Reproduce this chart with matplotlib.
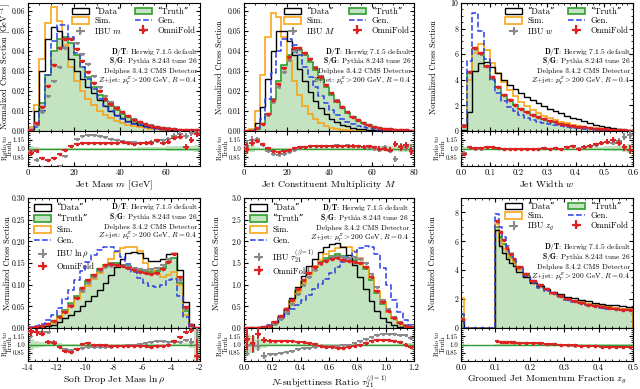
import numpy as np
import matplotlib
matplotlib.use("Agg")
import matplotlib.pyplot as plt
from matplotlib.patches import Patch
from matplotlib.ticker import AutoMinorLocator, FormatStrFormatter

plt.rcParams["font.family"] = ["cmr10", "DejaVu Serif"]
plt.rcParams["mathtext.fontset"] = "cm"
plt.rcParams["axes.formatter.use_mathtext"] = True
plt.rcParams["font.size"] = 6.5

# ---------------- data ----------------
# jet mass m
m_edges = np.linspace(0, 75, 31)
m_data = [0.001, 0.010, 0.030, 0.046, 0.052, 0.050, 0.042, 0.036, 0.030, 0.026, 0.022, 0.019, 0.0155, 0.0125, 0.0100,
          0.0080, 0.0063, 0.0050, 0.0039, 0.0030, 0.0023, 0.0018, 0.0014, 0.0011, 0.0008, 0.0006, 0.0005, 0.0004, 0.0003, 0.0002]
m_truth = [0.0005, 0.004, 0.014, 0.028, 0.040, 0.046, 0.047, 0.044, 0.038, 0.032, 0.027, 0.022, 0.018, 0.0148, 0.0125,
           0.0105, 0.0085, 0.0068, 0.0053, 0.0041, 0.0032, 0.0025, 0.0019, 0.0015, 0.0011, 0.0008, 0.0006, 0.0005, 0.0004, 0.0003]
m_sim = [0.002, 0.013, 0.036, 0.054, 0.062, 0.055, 0.043, 0.032, 0.025, 0.020, 0.016, 0.013, 0.010, 0.008, 0.0063,
         0.0050, 0.0039, 0.0030, 0.0024, 0.0018, 0.0014, 0.0011, 0.0008, 0.0006, 0.0005, 0.0004, 0.0003, 0.0002, 0.0002, 0.0001]
m_gen = [0.0, 0.002, 0.010, 0.028, 0.045, 0.053, 0.053, 0.047, 0.039, 0.032, 0.026, 0.021, 0.016, 0.0125, 0.0098,
         0.0076, 0.0060, 0.0047, 0.0036, 0.0028, 0.0021, 0.0016, 0.0012, 0.0009, 0.0007, 0.0005, 0.0004, 0.0003, 0.0002, 0.0001]
m_of_ratio = [0.93, 0.96, 0.84, 0.80, 0.83, 0.90, 0.98, 1.04, 1.08, 1.10, 1.10, 1.10, 1.10, 1.09, 1.09,
              1.10, 1.12, 1.10, 1.08, 1.09, 1.10, 1.10, 1.14, 1.09, 1.12, 1.18, 1.20, 1.03, 1.15, 1.25]
m_ibu_ratio = [0.95, 0.80, 0.68, 0.62, 0.62, 0.70, 0.88, 1.05, 1.16, 1.21, 1.24, 1.24, 1.22, 1.19, 1.16,
               1.14, 1.13, 1.12, 1.11, 1.10, 1.10, 1.12, 1.13, 1.14, 1.16, 1.22, 1.25, 1.22, 1.26, 1.28]
m_err = [0.05, 0.03, 0.015, 0.01, 0.01, 0.01, 0.01, 0.01, 0.01, 0.01, 0.01, 0.01, 0.01, 0.01, 0.012,
         0.012, 0.014, 0.015, 0.017, 0.02, 0.022, 0.025, 0.03, 0.03, 0.035, 0.04, 0.045, 0.05, 0.05, 0.06]

# constituent multiplicity M
M_edges = np.linspace(0, 80, 33)
M_data = [0, 0.0006, 0.004, 0.012, 0.026, 0.040, 0.050, 0.050, 0.045, 0.038, 0.031, 0.025, 0.0195, 0.015, 0.0115, 0.0085,
          0.0062, 0.0045, 0.0032, 0.0023, 0.0016, 0.0011, 0.0008, 0.0005, 0.0004, 0.0003, 0.0002, 0.0001, 0.0001, 0, 0, 0]
M_truth = [0, 0.0002, 0.0012, 0.0035, 0.0085, 0.016, 0.025, 0.033, 0.038, 0.041, 0.0405, 0.038, 0.0345, 0.0305, 0.0262, 0.022,
           0.018, 0.0145, 0.0115, 0.009, 0.0069, 0.0052, 0.0039, 0.0029, 0.0021, 0.0015, 0.0011, 0.0008, 0.0005, 0.0004, 0.0003, 0.0002]
M_sim = [0, 0.001, 0.010, 0.028, 0.047, 0.059, 0.057, 0.047, 0.035, 0.025, 0.018, 0.0125, 0.0085, 0.0058, 0.0038, 0.0025,
         0.0016, 0.001, 0.0006, 0.0004, 0.0002, 0.0001, 0.0001, 0, 0, 0, 0, 0, 0, 0, 0, 0]
M_gen = [0, 0.0002, 0.0015, 0.006, 0.016, 0.029, 0.040, 0.046, 0.046, 0.043, 0.038, 0.032, 0.027, 0.022, 0.0175, 0.0138,
         0.0107, 0.0082, 0.0062, 0.0047, 0.0035, 0.0026, 0.0019, 0.0014, 0.001, 0.0007, 0.0005, 0.0004, 0.0003, 0.0002, 0.0001, 0.0001]
M_of_ratio = [1.0, 1.10, 1.13, 1.07, 1.01, 0.96, 0.94, 0.95, 0.98, 1.01, 1.03, 1.03, 1.04, 1.04, 1.04, 1.04,
              1.05, 1.04, 1.05, 1.04, 1.05, 1.04, 1.03, 1.04, 1.02, 1.00, 0.99, 0.98, 1.08, 1.02, 1.06, 0.96]
M_ibu_ratio = [1.05, 1.15, 1.16, 1.06, 0.96, 0.90, 0.89, 0.90, 0.94, 0.98, 1.01, 1.03, 1.04, 1.05, 1.05, 1.05,
               1.05, 1.06, 1.05, 1.06, 1.05, 1.04, 1.03, 1.02, 1.00, 0.97, 1.02, 0.96, 0.82, 1.04, 1.02, 1.0]
M_err = [0.1, 0.06, 0.03, 0.015, 0.01, 0.01, 0.01, 0.01, 0.01, 0.01, 0.01, 0.01, 0.01, 0.01, 0.01, 0.012,
         0.012, 0.014, 0.015, 0.017, 0.02, 0.022, 0.025, 0.028, 0.03, 0.035, 0.04, 0.045, 0.05, 0.055, 0.06, 0.07]

# jet width w
w_edges = np.linspace(0, 0.6, 31)
w_data = [0.1, 1.5, 4.7, 5.3, 5.4, 5.0, 4.5, 4.0, 3.6, 3.25, 2.95, 2.65, 2.4, 2.15, 1.95,
          1.75, 1.55, 1.37, 1.2, 1.05, 0.9, 0.76, 0.63, 0.5, 0.4, 0.3, 0.22, 0.15, 0.09, 0.05]
w_truth = [0.4, 4.5, 6.4, 6.0, 5.0, 4.1, 3.4, 2.85, 2.4, 2.05, 1.75, 1.5, 1.28, 1.1, 0.94,
           0.8, 0.68, 0.57, 0.48, 0.4, 0.33, 0.27, 0.22, 0.18, 0.14, 0.11, 0.08, 0.06, 0.04, 0.02]
w_sim = [0.3, 4.0, 6.1, 6.8, 6.3, 5.3, 4.5, 3.8, 3.2, 2.7, 2.3, 1.95, 1.65, 1.4, 1.2,
         1.02, 0.86, 0.72, 0.6, 0.5, 0.41, 0.33, 0.26, 0.21, 0.16, 0.12, 0.09, 0.06, 0.04, 0.02]
w_gen = [0.5, 5.5, 9.2, 7.8, 5.6, 4.0, 3.0, 2.35, 1.9, 1.55, 1.28, 1.05, 0.88, 0.74, 0.62,
         0.52, 0.43, 0.36, 0.3, 0.25, 0.2, 0.16, 0.13, 0.1, 0.08, 0.06, 0.04, 0.03, 0.02, 0.01]
w_of_ratio = [0.90, 1.02, 1.01, 1.01, 1.02, 1.02, 1.01, 1.00, 1.00, 1.00, 1.00, 0.995, 1.00, 1.00, 1.005,
              1.00, 1.01, 1.00, 1.02, 1.035, 0.99, 1.03, 1.05, 1.07, 1.10, 1.12, 1.15, 1.09, 1.02, 0.98]
w_ibu_ratio = [0.92, 1.02, 1.00, 1.00, 1.02, 1.02, 1.01, 1.00, 0.995, 0.995, 1.00, 1.00, 0.995, 1.00, 1.01,
               1.00, 1.01, 1.00, 1.03, 1.04, 1.00, 1.02, 1.04, 1.06, 1.09, 1.12, 1.10, 1.13, 1.20, 1.24]
w_err = [0.03, 0.01, 0.008, 0.008, 0.008, 0.008, 0.008, 0.008, 0.008, 0.008, 0.01, 0.01, 0.01, 0.01, 0.012,
         0.012, 0.014, 0.015, 0.017, 0.018, 0.02, 0.022, 0.025, 0.028, 0.03, 0.035, 0.04, 0.05, 0.06, 0.08]

# soft drop jet mass ln rho
r_edges = np.linspace(-14, -2, 31)
r_data = [0.0, 0.001, 0.002, 0.004, 0.008, 0.014, 0.022, 0.030, 0.040, 0.050, 0.062, 0.074, 0.087, 0.105, 0.122,
          0.140, 0.160, 0.172, 0.176, 0.172, 0.162, 0.155, 0.155, 0.160, 0.170, 0.172, 0.135, 0.060, 0.010, 0.0]
r_truth = [0.0005, 0.002, 0.004, 0.008, 0.015, 0.027, 0.042, 0.058, 0.075, 0.092, 0.108, 0.123, 0.137, 0.146, 0.150,
           0.149, 0.146, 0.142, 0.138, 0.134, 0.131, 0.130, 0.131, 0.138, 0.152, 0.162, 0.105, 0.040, 0.006, 0.0]
r_sim = [0.0003, 0.001, 0.003, 0.006, 0.012, 0.022, 0.035, 0.050, 0.066, 0.082, 0.098, 0.113, 0.128, 0.143, 0.160,
         0.175, 0.184, 0.188, 0.186, 0.178, 0.150, 0.135, 0.125, 0.118, 0.122, 0.130, 0.100, 0.030, 0.004, 0.0]
r_gen = [0.002, 0.005, 0.010, 0.018, 0.030, 0.046, 0.066, 0.088, 0.110, 0.132, 0.152, 0.168, 0.180, 0.187, 0.186,
         0.178, 0.165, 0.148, 0.130, 0.115, 0.104, 0.097, 0.095, 0.099, 0.110, 0.112, 0.075, 0.025, 0.003, 0.0]
r_of_ratio = [1.25, 1.22, 1.20, 1.05, 1.03, 0.96, 0.88, 0.87, 0.92, 1.01, 1.03, 1.00, 0.99, 0.99, 0.98,
              0.98, 0.98, 0.97, 0.97, 0.97, 0.97, 0.96, 0.97, 0.98, 1.00, 1.06, 1.13, 1.22, 1.27, 0.80]
r_ibu_ratio = [1.22, 1.23, 1.22, 1.22, 1.05, 0.96, 0.92, 0.90, 0.91, 0.94, 0.96, 0.96, 0.96, 0.96, 0.96,
               0.97, 0.98, 0.99, 1.00, 1.01, 1.03, 1.05, 1.06, 1.06, 1.05, 1.05, 1.05, 1.08, 1.05, 1.00]
r_err = [0.1, 0.06, 0.04, 0.03, 0.025, 0.02, 0.015, 0.012, 0.01, 0.01, 0.01, 0.01, 0.01, 0.01, 0.01,
         0.01, 0.01, 0.01, 0.01, 0.01, 0.01, 0.01, 0.01, 0.01, 0.01, 0.01, 0.012, 0.02, 0.06, 0.3]

# N-subjettiness ratio tau21
t_edges = np.linspace(0, 1.2, 31)
t_data = [0, 0, 0.005, 0.02, 0.06, 0.14, 0.28, 0.47, 0.70, 0.95, 1.20, 1.42, 1.60, 1.76, 1.88,
          1.95, 1.96, 1.88, 1.68, 1.45, 1.18, 0.90, 0.62, 0.40, 0.24, 0.13, 0.06, 0.03, 0.01, 0.005]
t_truth = [0, 0, 0.005, 0.015, 0.05, 0.12, 0.25, 0.42, 0.62, 0.85, 1.06, 1.24, 1.40, 1.52, 1.61,
           1.67, 1.70, 1.67, 1.62, 1.58, 1.50, 1.37, 1.10, 0.80, 0.55, 0.36, 0.22, 0.12, 0.05, 0.02]
t_sim = [0, 0, 0.005, 0.015, 0.05, 0.12, 0.24, 0.40, 0.60, 0.83, 1.05, 1.25, 1.43, 1.58, 1.70,
         1.78, 1.84, 1.88, 1.86, 1.78, 1.62, 1.40, 1.15, 0.86, 0.60, 0.38, 0.22, 0.11, 0.05, 0.02]
t_gen = [0, 0, 0.005, 0.02, 0.06, 0.13, 0.22, 0.32, 0.43, 0.54, 0.65, 0.77, 0.90, 1.02, 1.14,
         1.27, 1.40, 1.53, 1.65, 1.76, 1.85, 1.90, 1.88, 1.70, 1.38, 1.00, 0.65, 0.38, 0.19, 0.08]
t_of_ratio = [1.10, 1.02, 1.20, 1.08, 1.07, 1.07, 1.07, 1.06, 1.055, 1.05, 1.04, 1.03, 1.01, 0.98, 0.96,
              0.95, 0.945, 0.945, 0.95, 0.97, 1.00, 1.03, 1.06, 1.08, 1.09, 1.08, 1.06, 1.04, 1.00, 0.95]
t_ibu_ratio = [1.00, 1.00, 0.98, 0.80, 0.82, 0.83, 0.85, 0.87, 0.89, 0.91, 0.93, 0.945, 0.955, 0.965, 0.97,
               0.975, 0.98, 0.985, 1.00, 1.03, 1.06, 1.10, 1.14, 1.17, 1.19, 1.20, 1.19, 1.18, 1.17, 1.12]
t_err = [0.2, 0.15, 0.1, 0.06, 0.03, 0.02, 0.015, 0.012, 0.01, 0.01, 0.01, 0.01, 0.01, 0.01, 0.01,
         0.01, 0.01, 0.01, 0.01, 0.01, 0.01, 0.01, 0.01, 0.01, 0.012, 0.014, 0.017, 0.02, 0.025, 0.03]

# groomed momentum fraction z_g
z_edges = [0, 0.01, 0.10, 0.11, 0.12, 0.13, 0.14, 0.15, 0.16, 0.18, 0.20, 0.22, 0.24,
           0.26, 0.28, 0.30, 0.32, 0.34, 0.36, 0.38, 0.40, 0.42, 0.44, 0.46, 0.48, 0.50]
z_data = [0.6, 0.0, 6.8, 5.7, 5.2, 4.8, 4.5, 4.3, 3.9, 3.5, 3.15, 2.9, 2.68,
          2.5, 2.33, 2.18, 2.05, 1.94, 1.84, 1.75, 1.68, 1.61, 1.56, 1.51, 1.47]
z_truth = [1.0, 0.0, 7.0, 6.3, 5.8, 5.3, 4.9, 4.6, 4.1, 3.6, 3.2, 2.9, 2.65,
           2.42, 2.22, 2.05, 1.9, 1.78, 1.67, 1.57, 1.49, 1.42, 1.36, 1.31, 1.28]
z_sim = [2.1, 0.0, 7.2, 6.0, 5.5, 5.1, 4.8, 4.5, 4.0, 3.55, 3.15, 2.85, 2.6,
         2.38, 2.2, 2.04, 1.9, 1.78, 1.68, 1.59, 1.51, 1.44, 1.38, 1.33, 1.29]
z_gen = [1.0, 0.0, 7.9, 7.0, 6.3, 5.7, 5.2, 4.8, 4.2, 3.6, 3.15, 2.8, 2.55,
         2.33, 2.14, 1.97, 1.82, 1.7, 1.59, 1.49, 1.41, 1.34, 1.29, 1.25, 1.22]
z_of_ratio = [0.65, np.nan, 1.055, 1.05, 1.045, 1.045, 1.04, 1.04, 1.035, 1.03, 1.025, 1.02, 1.015,
              1.005, 1.0, 0.99, 0.985, 0.975, 0.97, 0.965, 0.96, 0.96, 0.955, 0.955, 0.95]
z_ibu_ratio = [0.6, np.nan, 1.06, 1.05, 1.045, 1.04, 1.04, 1.035, 1.03, 1.03, 1.02, 1.015, 1.01,
               1.005, 1.0, 0.99, 0.98, 0.975, 0.97, 0.965, 0.96, 0.955, 0.955, 0.95, 0.95]
z_err = [0.05, 0.0, 0.01, 0.01, 0.01, 0.01, 0.01, 0.01, 0.01, 0.01, 0.01, 0.01, 0.01,
         0.01, 0.01, 0.01, 0.01, 0.01, 0.01, 0.01, 0.01, 0.01, 0.01, 0.01, 0.01]

# ---------------- style ----------------
GREEN = "#2f9e2f"
GREEN_FILL = "#c4e3c1"
ORANGE = "#f8a51c"
BLUE = "#2a3fe6"
GREY = "#8a8a8a"
RED = "#dc2323"

info = [r"$\mathbf{D/T}$: Herwig 7.1.5 default",
        r"$\mathbf{S/G}$: Pythia 8.243 tune 26",
        "Delphes 3.4.2 CMS Detector",
        r"$Z$+jet: $p_T^Z > 200$ GeV, $R = 0.4$"]

W, H = 640, 389
COLS = [(28, 200), (244, 414), (461, 633)]
ROWS = [(3, 131, 166), (198, 328, 361)]

fig = plt.figure(figsize=(W / 100, H / 100), dpi=100)


def panel(c, r, edges, data, truth, sim, gen, of_r, ibu_r, err, xlabel, ibu_label,
          xlim, ylim, xticks, xfmt, yfmt, label_x, ylabel="Normalized Cross Section",
          two_col=True, text_pos=(0.985, 0.70)):
    l, rt = COLS[c]
    t, m, b = ROWS[r]
    ax = fig.add_axes([l / W, 1 - m / H, (rt - l) / W, (m - t) / H])
    rax = fig.add_axes([l / W, 1 - b / H, (rt - l) / W, (b - m) / H], sharex=ax)

    edges = np.asarray(edges, float)
    cen = 0.5 * (edges[1:] + edges[:-1])
    hw = 0.5 * np.diff(edges)
    truth = np.asarray(truth, float)
    gen = np.asarray(gen, float)
    of_r = np.asarray(of_r, float)
    ibu_r = np.asarray(ibu_r, float)
    err = np.asarray(err, float)
    of_v = truth * of_r
    ibu_v = truth * ibu_r

    ax.stairs(truth, edges, fill=True, facecolor=GREEN_FILL, edgecolor=GREEN, lw=1.2, zorder=1)
    ax.stairs(sim, edges, color=ORANGE, lw=1.2, zorder=2)
    ax.stairs(data, edges, color="black", lw=1.0, zorder=3)
    h_gen, = ax.plot(edges, np.append(gen, gen[-1]), drawstyle="steps-post", ls="--",
                     color=BLUE, lw=1.1, label="Gen.", zorder=4)
    h_ibu = ax.errorbar(cen, ibu_v, xerr=hw, yerr=ibu_v * err, fmt="o", ms=1.3, color=GREY,
                        elinewidth=1.5, label=ibu_label, zorder=5)
    h_of = ax.errorbar(cen, of_v, xerr=hw, yerr=of_v * err, fmt="s", ms=2.0, color=RED,
                       elinewidth=1.6, label="OmniFold", zorder=6)
    h_truth = Patch(facecolor=GREEN_FILL, edgecolor=GREEN, lw=1.2, label="\u201cTruth\u201d")
    h_sim = Patch(facecolor="none", edgecolor=ORANGE, lw=1.2, label="Sim.")
    h_data = Patch(facecolor="none", edgecolor="black", lw=1.0, label="\u201cData\u201d")

    rax.stairs(1 + err, edges, baseline=1 - err, fill=True, color=GREEN_FILL, lw=0, zorder=1)
    rax.axhline(1.0, color=GREEN, lw=1.0, zorder=2)
    rax.errorbar(cen, ibu_r, xerr=hw, yerr=err, fmt="o", ms=1.3, color=GREY, elinewidth=1.4, zorder=3)
    rax.errorbar(cen, of_r, xerr=hw, yerr=err, fmt="s", ms=2.0, color=RED, elinewidth=1.4, zorder=4)

    ax.set_xlim(*xlim)
    ax.set_ylim(*ylim)
    rax.set_xticks(xticks)
    rax.xaxis.set_major_formatter(FormatStrFormatter(xfmt))
    rax.set_xlim(*xlim)
    rax.set_ylim(0.7, 1.3)
    rax.set_yticks([0.85, 1.0, 1.15])
    rax.set_yticklabels(["0.85", "1.0", "1.15"])
    ax.yaxis.set_major_formatter(FormatStrFormatter(yfmt))
    for a in (ax, rax):
        a.tick_params(which="both", direction="in", top=True, right=True)
        a.tick_params(which="major", length=3.2, labelsize=6.3, pad=2.2)
        a.tick_params(which="minor", length=1.7)
        a.xaxis.set_minor_locator(AutoMinorLocator())
        a.yaxis.set_minor_locator(AutoMinorLocator())
    ax.tick_params(axis="y", which="major", labelsize=5.6, pad=1.8)
    rax.tick_params(axis="y", which="major", labelsize=4.8)
    ax.tick_params(labelbottom=False)
    ax.set_ylabel(ylabel, fontsize=6.0)
    rax.set_ylabel("Ratio to\nTruth", fontsize=4.8, linespacing=0.85)
    ax.yaxis.set_label_coords(label_x[0], 0.5)
    rax.yaxis.set_label_coords(label_x[1], 0.5)
    rax.set_xlabel(xlabel, fontsize=7, labelpad=0.5)

    if two_col:
        hs = [h_data, h_sim, h_ibu, h_truth, h_gen, h_of]
        ax.legend(handles=hs, loc="upper right", ncol=2, fontsize=6.2, frameon=False,
                  labelspacing=0.1, handlelength=2.0, handleheight=0.8, handletextpad=0.6,
                  columnspacing=1.5, borderaxespad=0.15)
    else:
        hs = [h_data, h_truth, h_sim, h_gen, h_ibu, h_of]
        ax.legend(handles=hs, loc="upper left", ncol=1, fontsize=6.2, frameon=False,
                  labelspacing=0.3, handlelength=2.0, handleheight=0.8, handletextpad=0.6,
                  borderaxespad=0.3)

    x0, y0 = text_pos
    for i, s in enumerate(info):
        ax.text(x0, y0 - i * 0.075, s, transform=ax.transAxes, ha="right", va="center", fontsize=5.4)
    return ax, rax


panel(0, 0, m_edges, m_data, m_truth, m_sim, m_gen, m_of_ratio, m_ibu_ratio, m_err,
      r"Jet Mass $m$ [GeV]", r"IBU $m$", (0, 75), (0, 0.064), [0, 20, 40, 60], "%d", "%.2f",
      (-0.088, -0.087), ylabel=r"Normalized Cross Section [GeV$^{-1}$]", text_pos=(0.985, 0.62))
panel(1, 0, M_edges, M_data, M_truth, M_sim, M_gen, M_of_ratio, M_ibu_ratio, M_err,
      r"Jet Constituent Multiplicity $M$", r"IBU $M$", (0, 80), (0, 0.064),
      [0, 20, 40, 60, 80], "%d", "%.2f", (-0.115, -0.092), text_pos=(0.985, 0.62))
panel(2, 0, w_edges, w_data, w_truth, w_sim, w_gen, w_of_ratio, w_ibu_ratio, w_err,
      r"Jet Width $w$", r"IBU $w$", (0, 0.6), (0, 10),
      [0.0, 0.1, 0.2, 0.3, 0.4, 0.5, 0.6], "%.1f", "%d", (-0.134, -0.09), text_pos=(0.985, 0.62))
panel(0, 1, r_edges, r_data, r_truth, r_sim, r_gen, r_of_ratio, r_ibu_ratio, r_err,
      r"Soft Drop Jet Mass $\ln\rho$", r"IBU $\ln\rho$", (-14, -2), (0, 0.30),
      [-14, -12, -10, -8, -6, -4, -2], "%d", "%.2f", (-0.095, -0.087),
      two_col=False, text_pos=(0.985, 0.93))
panel(1, 1, t_edges, t_data, t_truth, t_sim, t_gen, t_of_ratio, t_ibu_ratio, t_err,
      r"$N$-subjettiness Ratio $\tau_{21}^{(\beta=1)}$", r"IBU $\tau_{21}^{(\beta=1)}$",
      (0, 1.2), (0, 3.0), [0.0, 0.2, 0.4, 0.6, 0.8, 1.0, 1.2], "%.1f", "%.1f", (-0.135, -0.092),
      two_col=False, text_pos=(0.97, 0.92))
panel(2, 1, z_edges, z_data, z_truth, z_sim, z_gen, z_of_ratio, z_ibu_ratio, z_err,
      r"Groomed Jet Momentum Fraction $z_g$", r"IBU $z_g$", (0, 0.5), (0, 9),
      [0.0, 0.1, 0.2, 0.3, 0.4, 0.5], "%.1f", "%d", (-0.14, -0.09), text_pos=(0.985, 0.62))

fig.savefig("out.png", dpi=100)
